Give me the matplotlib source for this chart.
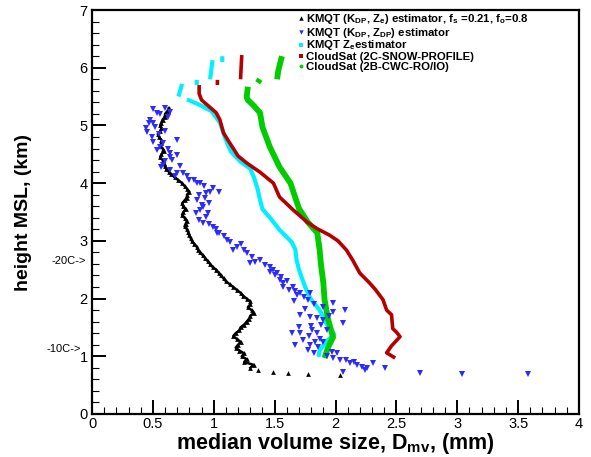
import numpy as np
import matplotlib
matplotlib.use("Agg")
import matplotlib.pyplot as plt
from matplotlib.ticker import MultipleLocator
from matplotlib.lines import Line2D

nan = np.nan

# ---- data ----
black_x = [2.04, 1.77, 1.61, 1.49, 1.36,
           1.30, 1.33, 1.25, 1.27, 1.23, 1.25, 1.21, 1.18, 1.20, 1.22, 1.19, 1.16, 1.18, 1.21,
           1.22, 1.25, 1.27, 1.29, 1.30, 1.33, 1.31, 1.28, 1.30, 1.30, 1.27, 1.24, 1.22, 1.19,
           1.16, 1.13, 1.10, 1.08, 1.06, 1.04, 1.02, 0.99, 0.97, 0.95, 0.93, 0.91, 0.89, 0.87,
           0.86, 0.84, 0.82, 0.81, 0.80, 0.79, 0.78, 0.76, 0.77, 0.78, 0.76, 0.74, 0.75, 0.77,
           0.75, 0.74, 0.76, 0.78, 0.78, 0.80, 0.78, 0.76, 0.74, 0.71, 0.68, 0.65, 0.63, 0.61,
           0.60, 0.59, 0.58, 0.56, 0.57, 0.59, 0.58, 0.56, 0.57, 0.57, 0.55, 0.54, 0.56, 0.57,
           0.56, 0.57, 0.58, 0.60, 0.60, 0.62, 0.63]
black_y = [0.68, 0.70, 0.71, 0.73, 0.76,
           0.80, 0.85, 0.90, 0.95, 1.00, 1.05, 1.10, 1.15, 1.20, 1.25, 1.30, 1.35, 1.40, 1.45,
           1.50, 1.55, 1.60, 1.65, 1.70, 1.75, 1.80, 1.85, 1.90, 1.95, 2.00, 2.05, 2.10, 2.15,
           2.20, 2.25, 2.30, 2.35, 2.40, 2.45, 2.50, 2.55, 2.60, 2.65, 2.70, 2.75, 2.80, 2.85,
           2.90, 2.95, 3.00, 3.05, 3.10, 3.15, 3.20, 3.25, 3.30, 3.35, 3.40, 3.45, 3.50, 3.55,
           3.60, 3.65, 3.70, 3.75, 3.80, 3.85, 3.90, 3.95, 4.00, 4.05, 4.10, 4.15, 4.20, 4.25,
           4.30, 4.35, 4.40, 4.45, 4.50, 4.55, 4.60, 4.65, 4.70, 4.75, 4.80, 4.85, 4.90, 4.95,
           5.00, 5.05, 5.10, 5.15, 5.20, 5.25, 5.30]

blue_x = [3.58, 3.04, 2.69, 2.06, 2.41, 2.26, 2.12, 1.98, 2.24, 2.18, 2.31, 2.09, 2.04, 2.01,
          1.97, 1.86, 1.77, 1.83, 1.73, 1.85, 1.81, 1.71, 1.64, 2.06, 1.90, 1.85, 1.79,
          1.71, 1.98, 2.08, 1.98, 1.90, 1.77, 1.79, 1.68, 1.65, 1.57, 1.54, 1.71, 1.57,
          1.52, 1.46, 1.49, 1.46, 1.34, 1.30, 1.27, 1.16, 1.19, 1.11, 1.03, 1.04, 0.99,
          0.91, 0.94, 0.89, 0.91, 0.86, 0.93, 1.04, 0.97, 0.94, 0.89, 0.86, 0.80, 0.75,
          0.70, 0.64, 0.57, 0.58, 0.70, 0.64, 0.70, 0.64, 0.56, 0.50, 0.44, 0.48, 0.53,
          0.62, 0.64, 0.50,
          0.50, 0.56, 0.60, 0.47, 0.52, 0.45, 0.55, 0.60, 0.49, 0.58, 0.53, 0.62, 0.66,
          0.60, 0.72, 0.68, 0.78, 0.84, 0.92, 0.99, 0.88, 0.96, 0.90, 0.85, 0.95, 0.88,
          0.96, 1.02, 1.08, 1.13, 1.22, 1.25, 1.31, 1.38, 1.42, 1.50, 1.55, 1.60, 1.62,
          1.67, 1.74, 1.66, 1.82, 1.75, 1.95, 1.88, 1.80, 1.70, 1.93, 1.78, 1.87, 1.67,
          1.79, 1.90, 1.82, 1.93, 2.15, 2.22]
blue_y = [0.69, 0.69, 0.71, 0.73, 0.80, 0.80, 0.88, 0.97, 0.76, 0.85, 0.88, 0.94, 0.94, 1.06,
          1.07, 1.16, 1.11, 1.25, 1.28, 1.40, 1.46, 1.40, 1.40, 1.58, 1.63, 1.66, 1.68,
          1.72, 1.77, 1.80, 1.92, 1.85, 1.98, 2.10, 2.06, 2.20, 2.20, 2.32, 2.10, 2.27,
          2.44, 2.46, 2.50, 2.55, 2.63, 2.62, 2.79, 2.84, 2.90, 3.02, 3.14, 3.14, 3.24,
          3.31, 3.41, 3.54, 3.59, 3.71, 3.74, 3.85, 3.85, 3.83, 4.00, 4.00, 4.06, 4.18,
          4.18, 4.23, 4.28, 4.32, 4.49, 4.45, 4.75, 4.52, 4.63, 4.72, 4.96, 5.10, 5.22,
          5.15, 5.24, 5.04,
          5.28, 5.20, 5.30, 5.05, 4.98, 4.88, 4.85, 4.90, 4.80, 4.70, 4.58, 4.60, 4.40,
          4.38, 4.30, 4.12, 4.12, 4.05, 3.95, 3.92, 3.80, 3.66, 3.62, 3.48, 3.48, 3.36,
          3.30, 3.20, 3.08, 2.98, 2.95, 2.85, 2.72, 2.66, 2.58, 2.40, 2.38, 2.30, 2.15,
          2.13, 2.02, 1.95, 1.90, 1.82, 1.70, 1.55, 1.52, 1.50, 1.45, 1.35, 1.30, 1.20,
          1.20, 1.25, 1.05, 1.00, 0.90, 0.82]

cyan_x = [1.86, 1.87, 1.92, 1.99, 1.93, 1.87, 1.80, 1.76, 1.73, 1.70, 1.68, 1.67, 1.64, 1.54,
          1.47, 1.40, 1.38, 1.36, 1.33, 1.30, 1.22, 1.14, 1.09, 1.05, 0.98, 0.88, 0.78,
          nan, 0.71, 0.74, nan, 0.86, 0.86, nan, 0.97, 0.99, nan, 1.07, 1.07]
cyan_y = [0.99, 1.10, 1.25, 1.38, 1.55, 1.80, 1.98, 2.15, 2.32, 2.50, 2.67, 2.85, 2.98, 3.19,
          3.38, 3.55, 3.71, 3.90, 4.10, 4.25, 4.37, 4.55, 4.80, 5.05, 5.25, 5.36, 5.45,
          nan, 5.50, 5.72, nan, 5.70, 5.79, nan, 5.80, 6.13, nan, 6.10, 6.20]

red_x = [2.49, 2.42, 2.46, 2.53, 2.50, 2.47, 2.46, 2.42, 2.39, 2.33, 2.28, 2.20, 2.14, 2.09,
         2.02, 1.95, 1.85, 1.77, 1.65, 1.54, 1.49, 1.38, 1.27, 1.20, 1.13, 1.08, 1.05,
         1.02, 0.96, 0.90, 0.88, 0.88, nan, 1.03, 1.03, nan, 1.22, 1.23]
red_y = [0.97, 1.06, 1.18, 1.34, 1.42, 1.48, 1.72, 1.80, 1.98, 2.15, 2.27, 2.44, 2.67, 2.84,
         3.00, 3.10, 3.21, 3.32, 3.54, 3.76, 4.00, 4.19, 4.35, 4.47, 4.70, 4.87, 5.10,
         5.22, 5.33, 5.44, 5.55, 5.70, nan, 5.70, 5.79, nan, 5.80, 6.22]

green_x = [1.91, 1.94, 1.98, 1.94, 1.91, 1.90, 1.88, 1.87, 1.85, 1.77, 1.70, 1.63, 1.54, 1.46,
           1.40, 1.38, 1.32, 1.28, 1.27, 1.28, nan, 1.36, 1.38, nan, 1.52, 1.53, 1.56]
green_y = [0.97, 1.16, 1.33, 1.63, 1.98, 2.27, 2.60, 2.84, 3.14, 3.33, 3.56, 4.00, 4.28, 4.63,
           4.97, 5.22, 5.36, 5.44, 5.49, 5.67, nan, 5.74, 5.80, nan, 5.80, 5.95, 6.20]

labels = [r'KMQT (K$_{DP}$, Z$_e$) estimator, f$_s$ =0.21, f$_o$=0.8',
          r'KMQT (K$_{DP}$, Z$_{DP}$) estimator',
          r'KMQT Z$_e$estimator',
          'CloudSat (2C-SNOW-PROFILE)',
          'CloudSat (2B-CWC-RO/IO)']

x_ticks = [0, 0.5, 1, 1.5, 2, 2.5, 3, 3.5, 4]
x_ticklabels = ['0', '0.5', '1', '1.5', '2', '2.5', '3', '3.5', '4']
y_ticks = [0, 1, 2, 3, 4, 5, 6, 7]

# ---- style ----
plt.rcParams['font.family'] = ['Liberation Sans', 'DejaVu Sans']
plt.rcParams['mathtext.fontset'] = 'custom'
plt.rcParams['mathtext.rm'] = 'Liberation Sans:bold'
plt.rcParams['mathtext.it'] = 'Liberation Sans:bold'
plt.rcParams['mathtext.bf'] = 'Liberation Sans:bold'
plt.rcParams['mathtext.default'] = 'rm'

c_black = '#000000'
c_blue = '#2b2bff'
c_cyan = '#00f0ff'
c_red = '#b40000'
c_green = '#00cc00'

W, H = 591, 457
fig = plt.figure(figsize=(W / 100, H / 100), dpi=100)
ax = fig.add_axes([0.1557, 0.0941, 0.824, 0.884])

ax.plot(cyan_x, cyan_y, '-', color=c_cyan, lw=3.0, solid_capstyle='butt', zorder=3)
ax.plot(green_x, green_y, '-', color=c_green, lw=4.2, solid_capstyle='butt', zorder=4)
ax.plot(red_x, red_y, '-', color=c_red, lw=2.6, solid_capstyle='butt', zorder=5)
ax.plot(black_x[5:], black_y[5:], '-', color=c_black, lw=1.8, zorder=6)
ax.plot(black_x, black_y, '^', color=c_black, ms=3.4, mew=0, ls='none', zorder=6)
ax.plot(blue_x, blue_y, 'v', color=c_blue, ms=4.5, mew=0, ls='none', zorder=7)

ax.set_xlim(0, 4)
ax.set_ylim(0, 7)
ax.set_xticks(x_ticks)
ax.set_xticklabels(x_ticklabels)
ax.set_yticks(y_ticks)
ax.xaxis.set_minor_locator(MultipleLocator(0.1))
ax.yaxis.set_minor_locator(MultipleLocator(0.2))
ax.tick_params(which='major', direction='in', length=10, width=1.4, labelsize=10.5, pad=3)
ax.tick_params(which='minor', direction='in', length=5, width=0.8)
ax.tick_params(axis='x', pad=2)
for s in ax.spines.values():
    s.set_linewidth(1.6)

ax.set_xlabel(r'median volume size, D$_{mv}$, (mm)', fontsize=15.5, fontweight='bold', labelpad=0)
ax.set_ylabel('height MSL, (km)', fontsize=14, fontweight='bold', labelpad=34)

ax.text(-0.012, 2.65, '-20C->', transform=ax.get_yaxis_transform(), ha='right', va='center',
        fontsize=8)
ax.text(-0.022, 1.12, '-10C->', transform=ax.get_yaxis_transform(), ha='right', va='center',
        fontsize=8)

# ---- legend drawn entry by entry ----
leg_markers = [('^', c_black, 3.2), ('v', c_blue, 3.2), ('s', c_cyan, 2.4),
               ('s', c_red, 2.4), ('o', c_green, 2.8)]
row_centers = [18, 32, 44.5, 55.5, 66]
for (mk, col, ms), lab, yc in zip(leg_markers, labels, row_centers):
    fig.add_artist(Line2D([301 / W], [1 - yc / H], transform=fig.transFigure, ls='none',
                          marker=mk, color=col, ms=ms, mew=0))
    fig.text(306 / W, 1 - (yc + 4) / H, lab, ha='left', va='baseline', fontsize=8.2,
             fontweight='bold')

fig.savefig('out.png', dpi=100)
